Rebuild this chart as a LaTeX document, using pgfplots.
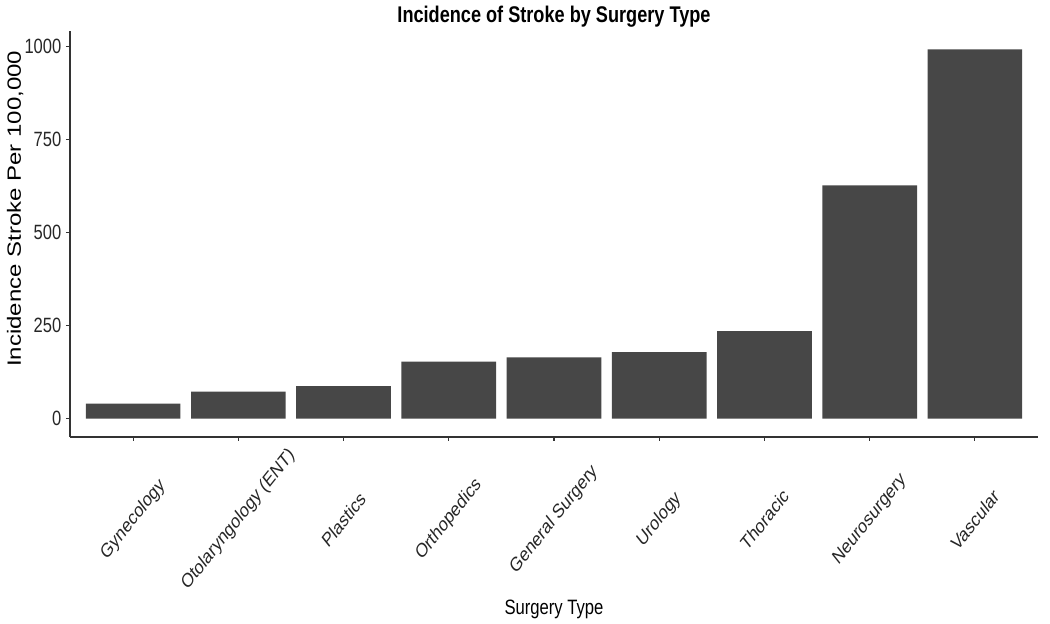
\documentclass[border=0pt]{standalone}
\usepackage{fontspec}
\setmainfont{Liberation Sans}
\newfontfamily\cond{Liberation Sans}[FakeStretch=0.8]
\usepackage{pgfplots}
\pgfplotsset{compat=1.18}
\definecolor{barc}{HTML}{474747}
\definecolor{axc}{HTML}{333333}
\begin{document}
\begin{tikzpicture}
\useasboundingbox (0,0) rectangle (787.5pt,468pt);
\begin{axis}[
  at={(52.5pt,140.25pt)}, anchor=south west,
  scale only axis, width=726pt, height=304.5pt,
  xmin=0.4, xmax=9.6, ymin=-49.6, ymax=1040.6,
  axis x line*=bottom, axis y line*=left,
  axis line style={axc, line width=0.9pt, -},
  tick align=outside, major tick length=3pt,
  tick style={axc, line width=0.9pt},
  xtick={1,2,3,4,5,6,7,8,9},
  xticklabels={Gynecology, Otolaryngology (ENT), Plastics, Orthopedics, General Surgery, Urology, Thoracic, Neurosurgery, Vascular},
  xticklabel style={font=\fontsize{14.8}{16}\selectfont, text=black!85, xscale=0.8, rotate=45, anchor=center},
  xticklabel shift=59pt,
  ytick={0,250,500,750,1000},
  yticklabel style={font=\fontsize{15.5}{18}\cond, text=black!85},
  /pgf/number format/assume math mode=true,
  /pgf/number format/set thousands separator={},
  title={Incidence of Stroke by Surgery Type},
  title style={font=\fontsize{17}{20}\cond\bfseries, at={(axis description cs:0.5,1.015)}, anchor=center},
  xlabel={Surgery Type},
  xlabel style={font=\fontsize{15.6}{18}\cond, at={(axis description cs:0.5,-0.4237)}, anchor=center},
  ylabel={\scalebox{1}[0.8]{Incidence Stroke Per 100,000}},
  ylabel style={font=\fontsize{18}{20}\selectfont, at={(axis description cs:-0.0568,0.562)}, anchor=center},
]
\addplot[ybar, bar width=0.9, fill=barc, draw=none] coordinates {
(1,40) (2,72.5) (3,87) (4,153) (5,164) (6,178) (7,235) (8,626) (9,991)};
\end{axis}
\end{tikzpicture}
\end{document}
